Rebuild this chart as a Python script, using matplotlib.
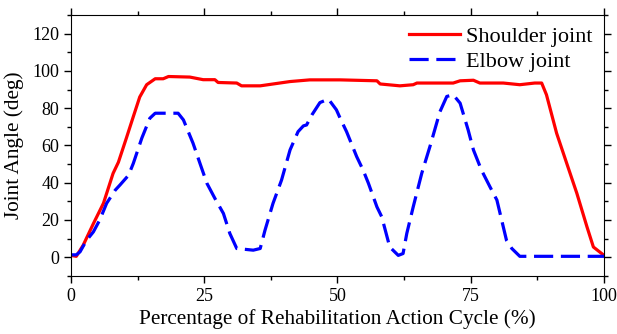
import matplotlib
matplotlib.use("Agg")
import matplotlib.pyplot as plt
from matplotlib.ticker import MultipleLocator

# values
shoulder_x = [0, 1, 2.3, 4.2, 6.1, 7.9, 8.9, 10.4, 11.7, 12.9, 14.2, 15.8, 17.3, 18.3,
              22.3, 24.8, 27, 27.6, 31.1, 32, 35.5, 41.1, 44.8, 50.5, 57.4, 58, 61.7,
              64.2, 64.9, 71.7, 73, 75.5, 76.7, 81.1, 84.2, 87, 88.3, 89.2, 91.1, 93,
              94.9, 96.8, 98, 100]
shoulder_y = [1, 0.5, 6.5, 18, 29, 45, 51, 64, 75.5, 86, 92.6, 95.8, 95.8, 97,
              96.7, 95.3, 95.3, 93.8, 93.5, 92, 92, 94.3, 95.2, 95.2, 94.7, 93, 92,
              92.6, 93.5, 93.5, 94.7, 95, 93.5, 93.5, 92.6, 93.5, 93.5, 87.2, 66.6, 50.4,
              34.3, 16.3, 5.5, 1]

elbow_x = [0, 1, 1.7, 2.9, 4.2, 5.4, 6.7, 8.3, 9.2, 10.8, 11.7, 13.3, 14.8, 15.8,
           20.1, 21.1, 22.9, 24.2, 25.5, 27, 28.6, 29.8, 31.1, 34.2, 35.5, 36.4, 37.9,
           39.5, 41.1, 42.6, 43.6, 44.2, 45.2, 46.7, 48.3, 49.8, 50.5, 51.7, 53.6, 54.8,
           55.8, 57.4, 58.3, 59.8, 61.4, 62.3, 63, 64.2, 65.8, 67.4, 69.2, 70.5, 71.7,
           73, 74.5, 75.5, 77, 78.6, 79.9, 80.8, 81.7, 82.7, 84.2, 100]
elbow_y = [1.3, 1.3, 2.9, 9, 13.6, 20, 29, 36, 38.8, 44, 50.4, 64, 74.6, 77.3,
           77.3, 73.7, 61.2, 50.4, 39.7, 31.6, 23.5, 12.8, 4.7, 3.8, 4.7, 14.5, 28.9,
           41.4, 57.6, 67.4, 70.5, 71, 76.4, 83, 84.9, 79.1, 74.6, 67.4, 54, 46.8,
           39.7, 27, 21.7, 5.5, 1, 2, 12.8, 27, 45, 60, 78, 86.3, 87.2,
           82.7, 68.4, 57.6, 46.8, 37.8, 30.7, 19.9, 9.1, 4.7, 0.5, 0.5]

plt.rcParams['font.family'] = ['Liberation Serif', 'DejaVu Serif']

fig = plt.figure(figsize=(6.17, 3.34), dpi=100)
ax = fig.add_axes([0.115, 0.174, 0.864, 0.781])

ax.plot(shoulder_x, shoulder_y, color="#ff0000", lw=2.3, label="Shoulder joint")
ax.plot(elbow_x, elbow_y, color="#0000ff", lw=2.3, dashes=(6, 2.4), label="Elbow joint")

ax.set_xlim(0, 100)
ax.set_ylim(-10, 130)
ax.xaxis.set_major_locator(MultipleLocator(25))
ax.xaxis.set_minor_locator(MultipleLocator(12.5))
ax.yaxis.set_minor_locator(MultipleLocator(10))
ax.set_yticks([0, 20, 40, 60, 80, 100, 120])
ax.tick_params(which="both", direction="out", top=True, right=True, labelsize=13, width=1)
ax.tick_params(which="major", length=5)
ax.tick_params(which="minor", length=3)

ax.set_xlabel("Percentage of Rehabilitation Action Cycle (%)", fontsize=15.3, labelpad=3)
ax.set_ylabel("Joint Angle (deg)", fontsize=15.3, labelpad=6)

ax.legend(loc="upper right", frameon=False, fontsize=16, handlelength=2.3,
          borderaxespad=0.1, labelspacing=0.2, handletextpad=0.3)

plt.savefig("out.png", dpi=100)
